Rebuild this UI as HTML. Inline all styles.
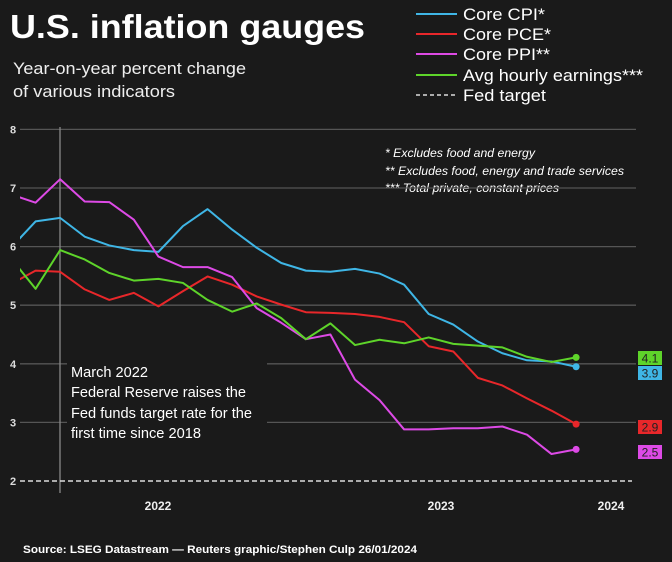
<!DOCTYPE html>
<html><head><meta charset="utf-8"><style>
html,body{margin:0;padding:0;background:#1a1a1a;}
svg{display:block;font-family:"Liberation Sans",Arial,sans-serif;}
</style></head><body>
<svg id="chart" width="672" height="562" viewBox="0 0 672 562">
<rect width="672" height="562" fill="#1a1a1a"/>
<text x="10" y="38" fill="#fff" font-size="33" font-weight="bold" textLength="355" lengthAdjust="spacingAndGlyphs">U.S. inflation gauges</text>
<text x="13" y="74" fill="#eee" font-size="17" textLength="233" lengthAdjust="spacingAndGlyphs">Year-on-year percent change</text>
<text x="13" y="97" fill="#eee" font-size="17" textLength="162" lengthAdjust="spacingAndGlyphs">of various indicators</text>
<g>
<g><line x1="416" y1="14" x2="457" y2="14" stroke="#3fb6e6" stroke-width="2"/><text x="463" y="20" fill="#fff" font-size="17" textLength="82" lengthAdjust="spacingAndGlyphs">Core CPI*</text></g>
<g><line x1="416" y1="34" x2="457" y2="34" stroke="#e8272a" stroke-width="2"/><text x="463" y="40" fill="#fff" font-size="17" textLength="88" lengthAdjust="spacingAndGlyphs">Core PCE*</text></g>
<g><line x1="416" y1="54" x2="457" y2="54" stroke="#dd4ae6" stroke-width="2"/><text x="463" y="60" fill="#fff" font-size="17" textLength="87" lengthAdjust="spacingAndGlyphs">Core PPI**</text></g>
<g><line x1="416" y1="75" x2="457" y2="75" stroke="#5ed42a" stroke-width="2"/><text x="463" y="81" fill="#fff" font-size="17" textLength="180" lengthAdjust="spacingAndGlyphs">Avg hourly earnings***</text></g>
<g><line x1="416" y1="95" x2="457" y2="95" stroke="#ddd" stroke-width="1.5" stroke-dasharray="4,3"/><text x="463" y="101" fill="#fff" font-size="17" textLength="83" lengthAdjust="spacingAndGlyphs">Fed target</text></g>
</g>
<g font-size="11.5" font-style="italic" fill="#fff">
<text x="385" y="157" textLength="150" lengthAdjust="spacingAndGlyphs">* Excludes food and energy</text>
<text x="385" y="175" textLength="239" lengthAdjust="spacingAndGlyphs">** Excludes food, energy and trade services</text>
<text x="385" y="192" textLength="174" lengthAdjust="spacingAndGlyphs">*** Total private, constant prices</text>
</g>
<g id="grid"></g>
<g id="yticks"></g>
<line x1="60" y1="127" x2="60" y2="493" stroke="#888" stroke-width="1.3"/>
<rect x="67" y="356" width="200" height="90" fill="#1a1a1a"/>
<g font-size="14.5" fill="#fff">
<text x="71" y="377" textLength="77" lengthAdjust="spacingAndGlyphs">March 2022</text>
<text x="71" y="397" textLength="175" lengthAdjust="spacingAndGlyphs">Federal Reserve raises the</text>
<text x="71" y="418" textLength="181" lengthAdjust="spacingAndGlyphs">Fed funds target rate for the</text>
<text x="71" y="438" textLength="130" lengthAdjust="spacingAndGlyphs">first time since 2018</text>
</g>
<line x1="20" y1="481" x2="632" y2="481" stroke="#ddd" stroke-width="1.6" stroke-dasharray="5,3"/>
<defs><clipPath id="pc"><rect x="20" y="100" width="620" height="400"/></clipPath></defs>
<g id="series" clip-path="url(#pc)"></g>
<g id="ends"></g>
<g font-size="12" font-weight="bold" fill="#eee" text-anchor="middle">
<text x="158" y="510">2022</text>
<text x="441" y="510">2023</text>
<text x="611" y="510">2024</text>
</g>
<text x="23" y="553" fill="#fff" font-size="11" font-weight="bold" textLength="394" lengthAdjust="spacingAndGlyphs">Source: LSEG Datastream — Reuters graphic/Stephen Culp 26/01/2024</text>
</svg>
<script>
const yTicks = [2,3,4,5,6,7,8];
const coreCPI = [5.98,6.43,6.49,6.17,6.02,5.94,5.91,6.35,6.64,6.29,5.98,5.72,5.59,5.57,5.62,5.54,5.35,4.85,4.67,4.38,4.18,4.06,4.04,3.95];
const corePCE = [5.36,5.59,5.57,5.27,5.09,5.21,4.98,5.24,5.49,5.35,5.15,5.01,4.88,4.87,4.85,4.80,4.71,4.30,4.21,3.76,3.63,3.41,3.20,2.97];
const corePPI = [6.89,6.75,7.15,6.77,6.76,6.46,5.83,5.65,5.65,5.48,4.95,4.70,4.42,4.50,3.73,3.38,2.88,2.88,2.90,2.90,2.93,2.79,2.46,2.54];
const earnings = [5.80,5.28,5.94,5.78,5.55,5.42,5.45,5.38,5.09,4.89,5.03,4.78,4.42,4.69,4.32,4.41,4.35,4.45,4.34,4.31,4.28,4.12,4.03,4.11];
const endLabels = ["4.1","3.9","2.9","2.5"];
const NS='http://www.w3.org/2000/svg';
const y = v => 481 - (v-2)*58.6;
const x = i => 11 + i*24.57;
const grid=document.getElementById('grid'), yt=document.getElementById('yticks');
yTicks.forEach(t=>{
  if(t>2){const l=document.createElementNS(NS,'line');
  l.setAttribute('x1',20);l.setAttribute('x2',636);l.setAttribute('y1',y(t));l.setAttribute('y2',y(t));
  l.setAttribute('stroke','#555');l.setAttribute('stroke-width','1.3');
  
  
  grid.appendChild(l);}
  const tx=document.createElementNS(NS,'text');
  tx.setAttribute('x',13);tx.setAttribute('y',y(t)+4);tx.setAttribute('text-anchor','middle');
  tx.setAttribute('font-size','11');tx.setAttribute('font-weight','bold');tx.setAttribute('fill','#ddd');
  tx.textContent=t;
  
  
  yt.appendChild(tx);
});
const series=[['core-cpi',coreCPI,'#3fb6e6'],['core-pce',corePCE,'#e8272a'],['core-ppi',corePPI,'#dd4ae6'],['earnings',earnings,'#5ed42a']];
const sg=document.getElementById('series'), eg=document.getElementById('ends');
series.forEach(([n,d,c])=>{
  const p=document.createElementNS(NS,'polyline');
  p.setAttribute('points',d.map((v,i)=>x(i)+','+y(v)).join(' '));
  p.setAttribute('fill','none');p.setAttribute('stroke',c);p.setAttribute('stroke-width','2');p.setAttribute('stroke-linejoin','round');
  
  
  sg.appendChild(p);
  const ci=document.createElementNS(NS,'circle');
  ci.setAttribute('cx',x(d.length-1));ci.setAttribute('cy',y(d[d.length-1]));ci.setAttribute('r',3.5);ci.setAttribute('fill',c);
  
  
  eg.appendChild(ci);
});
const boxes=[[351,'#5ed42a',0],[366,'#3fb6e6',1],[420,'#e8272a',2],[445,'#dd4ae6',3]];
boxes.forEach(([by,c,k])=>{
  const r=document.createElementNS(NS,'rect');
  r.setAttribute('x',638);r.setAttribute('y',by);r.setAttribute('width',24);r.setAttribute('height',14);r.setAttribute('fill',c);
  
  
  eg.appendChild(r);
  const t=document.createElementNS(NS,'text');
  t.setAttribute('x',650);t.setAttribute('y',by+11.5);t.setAttribute('text-anchor','middle');t.setAttribute('font-size','12');t.setAttribute('fill','#222');
  t.textContent=endLabels[k];
  
  
  eg.appendChild(t);
});
</script>
</body></html>
